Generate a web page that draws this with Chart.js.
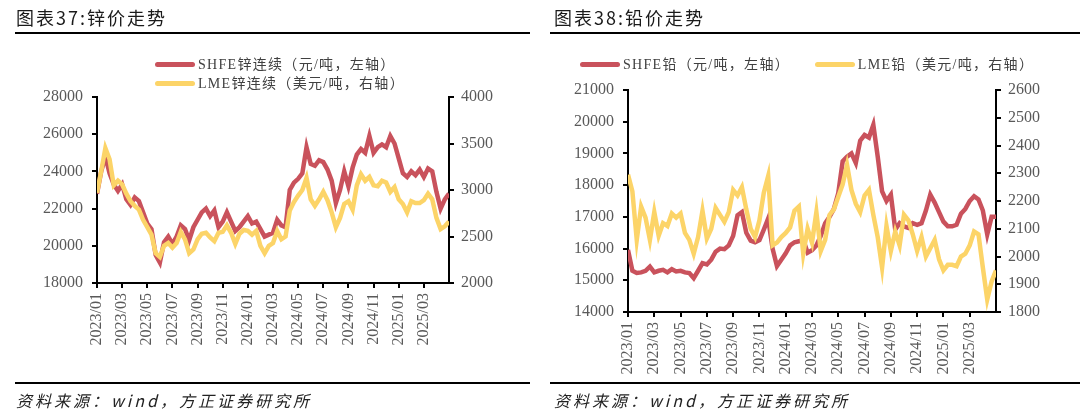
<!DOCTYPE html>
<html>
<head>
<meta charset="utf-8">
<script src="https://cdn.jsdelivr.net/npm/chart.js@4.4.1/dist/chart.umd.min.js"></script>
<style>
  body { margin: 0; width: 1080px; height: 412px; background: #fff; overflow: hidden; position: relative; }
  .panel { position: absolute; top: 0; width: 540px; height: 412px; }
  .panel canvas { position: absolute; left: 0; top: 0; }
  .title { position: absolute; top: 6px; font-family: "Noto Sans CJK SC", sans-serif; font-size: 18px; letter-spacing: 2px; color: #1a1a1a; line-height: 22px; white-space: nowrap; }
  .rule { position: absolute; height: 2px; background: #000; }
  .source { position: absolute; top: 390px; font-family: "Noto Sans CJK SC", sans-serif; font-style: italic; font-size: 16px; letter-spacing: 3px; color: #222; line-height: 20px; white-space: nowrap; }
  .legend { position: absolute; font-family: "Liberation Serif", "Noto Sans CJK SC", serif; font-size: 14px; letter-spacing: 1.3px; color: #404040; line-height: 17px; }
  .legend .item { display: inline-flex; align-items: center; white-space: nowrap; }
  .legend .swatch { display: inline-block; width: 40px; height: 5px; border-radius: 3px; margin-right: 3px; }
</style>
</head>
<body>

<div class="panel" style="left:0">
  <canvas id="zinc" width="540" height="412"></canvas>
  <div class="title" style="left:16px">图表37:锌价走势</div>
  <div class="rule" style="left:15px; top:32px; width:515px"></div>
  <div class="legend" style="left:155px; top:54px">
    <div class="item"><span class="swatch" style="background:#C9525C"></span>SHFE锌连续（元/吨，左轴）</div><br>
    <div class="item"><span class="swatch" style="background:#FCD468"></span>LME锌连续（美元/吨，右轴）</div>
  </div>
  <div class="rule" style="left:15px; top:382px; width:515px"></div>
  <div class="source" style="left:16px">资料来源：wind，方正证券研究所</div>
</div>

<div class="panel" style="left:540px">
  <canvas id="lead" width="540" height="412"></canvas>
  <div class="title" style="left:14px">图表38:铅价走势</div>
  <div class="rule" style="left:10px; top:32px; width:533px"></div>
  <div class="legend" style="left:40px; top:54px">
    <div class="item"><span class="swatch" style="background:#C9525C"></span>SHFE铅（元/吨，左轴）</div>
    <div class="item" style="margin-left:20px"><span class="swatch" style="background:#FCD468"></span>LME铅（美元/吨，右轴）</div>
  </div>
  <div class="rule" style="left:10px; top:382px; width:533px"></div>
  <div class="source" style="left:14px">资料来源：wind，方正证券研究所</div>
</div>

<script>
// x ticks every two months, 3 samples per month from 2023/01 to 2025/04
const tickLabels = ["2023/01", "2023/03", "2023/05", "2023/07", "2023/09", "2023/11",
  "2024/01", "2024/03", "2024/05", "2024/07", "2024/09", "2024/11", "2025/01", "2025/03"];
const samplesPerMonth = 3;

// 锌：SHFE (元/吨) and LME (美元/吨)
const zincShfe = [
  22800, 24000, 24800, 23900, 23300, 22950, 23300, 22500, 22200, 22600,
  22400, 21800, 21200, 20900, 19500, 19100, 20200, 20500, 20100, 20500,
  21100, 20900, 20300, 21000, 21400, 21800, 22000, 21600, 21900, 21000,
  21300, 21800, 21300, 20800, 21000, 21300, 21600, 21200, 21300, 20900,
  20500, 20600, 20700, 21400, 21100, 21000, 23000, 23400, 23600, 23900,
  25300, 24400, 24300, 24600, 24500, 24100, 23500, 22300, 23000, 24000,
  23200, 24200, 24900, 25200, 25000, 25900, 25000, 25300, 25450, 25300,
  25900, 25500, 24700, 23900, 23700, 24000, 23800, 24100, 23700, 24150,
  24000, 22900, 22000, 22500, 22800
];
const zincLme = [
  2970, 3200, 3450, 3330, 3050, 3100, 3060, 2960, 2880, 2830,
  2790, 2680, 2600, 2520, 2320, 2280, 2400, 2430, 2380, 2430,
  2550, 2470, 2320, 2360, 2470, 2530, 2540, 2490, 2450, 2540,
  2550, 2620, 2540, 2420, 2530, 2570, 2560, 2520, 2560, 2400,
  2320, 2400, 2430, 2560, 2470, 2500, 2780, 2870, 2940, 3000,
  3130, 2900, 2830, 2900, 2980, 2890, 2760, 2600, 2700, 2850,
  2880, 2790, 3050, 3170, 3100, 3140, 3050, 3040, 3100, 3080,
  2980, 3030, 2900, 2850, 2760, 2880, 2860, 2860, 2890, 2960,
  2900, 2700, 2580, 2610, 2660
];

// 铅：SHFE (元/吨) and LME (美元/吨)
const leadShfe = [
  15960, 15300, 15230, 15250, 15300, 15430, 15250, 15300, 15330, 15250,
  15350, 15280, 15300, 15250, 15230, 15070, 15300, 15540, 15500, 15650,
  15900, 16000, 15980, 16100, 16400, 17050, 17150, 16500, 16250, 16200,
  16270, 16600, 16950, 16000, 15450, 15650, 15850, 16100, 16200, 16230,
  16280, 15870, 15950, 16100, 16400, 16800, 17000, 17250, 17750, 18750,
  18900, 19000, 18700, 19400, 19580, 19500, 19900, 18900, 17800, 17500,
  17700, 16600, 16800, 16700, 16650, 16800, 16750, 16800, 17200, 17700,
  17450, 17150, 16850, 16700, 16700, 16750, 17100, 17250, 17500, 17650,
  17550, 17200, 16450, 17000, 17000
];
const leadLme = [
  2295, 2235, 2060, 2180, 2140, 2060, 2160, 2075, 2120, 2110,
  2155, 2140, 2155, 2085, 2060, 2010, 2070, 2165, 2065, 2100,
  2175, 2150, 2125, 2160, 2240, 2220, 2250, 2170, 2100, 2070,
  2130, 2230, 2290, 2040, 2050, 2070, 2085, 2105, 2165, 2180,
  2010, 2100, 2050, 2160, 2020, 2060, 2150, 2170, 2215, 2260,
  2330, 2240, 2190, 2160, 2220, 2240, 2150, 2070, 1960, 2110,
  2020, 2090, 2040, 2150, 2130, 2080, 2020, 2070, 2000, 2030,
  2060, 1990, 1950, 1970, 1970, 1965, 2000, 2010, 2040, 2090,
  2080, 1960, 1845, 1910, 1950
];

const RED = "#C9525C";
const YELLOW = "#FCD468";
const TICK_COLOR = "#595959";

Chart.defaults.font.family = '"Liberation Serif", "Noto Sans CJK SC", serif';
Chart.defaults.font.size = 16;

function toPoints(values) {
  return values.map((v, i) => ({ x: i / samplesPerMonth, y: v }));
}

function axisStyle() {
  return {
    grid: { drawOnChartArea: false, drawTicks: true, tickLength: 5, color: "#000", lineWidth: 2 },
    border: { display: true, color: "#000", width: 2 },
  };
}

// box = plot area edges in canvas pixels
function drawChart(id, box, shfe, lme, left, right) {
  const canvas = document.getElementById(id);
  const W = canvas.width;
  const H = canvas.height;

  const data = {
    datasets: [
      {
        label: "SHFE",
        data: toPoints(shfe),
        yAxisID: "yL",
        borderColor: RED,
        backgroundColor: RED,
        borderWidth: 4.5,
        pointRadius: 0,
        tension: 0,
        order: 1,
      },
      {
        label: "LME",
        data: toPoints(lme),
        yAxisID: "yR",
        borderColor: YELLOW,
        backgroundColor: YELLOW,
        borderWidth: 4.5,
        pointRadius: 0,
        tension: 0,
        order: 0,
      },
    ],
  };

  const options = {
    responsive: false,
    animation: false,
    layout: { padding: { top: box.top, left: 0, right: 0, bottom: 0 } },
    plugins: { legend: { display: false }, tooltip: { enabled: false } },
    scales: {
      x: {
        type: "linear",
        min: 0,
        max: 28,
        ...axisStyle(),
        ticks: {
          stepSize: 2,
          includeBounds: false,
          autoSkip: false,
          minRotation: 90,
          maxRotation: 90,
          padding: 5,
          color: TICK_COLOR,
          callback: (v) => (tickLabels[v / 2] === undefined ? null : tickLabels[v / 2]),
        },
        afterFit: (s) => { s.height = H - box.bottom; },
      },
      yL: {
        position: "left",
        min: left.min,
        max: left.max,
        ...axisStyle(),
        ticks: { stepSize: left.step, padding: 9, color: TICK_COLOR, callback: (v) => String(v) },
        afterFit: (s) => { s.width = box.left; },
      },
      yR: {
        position: "right",
        min: right.min,
        max: right.max,
        ...axisStyle(),
        ticks: { stepSize: right.step, padding: 7, color: TICK_COLOR, callback: (v) => String(v) },
        afterFit: (s) => { s.width = W - box.right; },
      },
    },
  };

  return new Chart(canvas, { type: "line", data, options });
}

drawChart("zinc", { left: 97, right: 449, top: 97, bottom: 283 }, zincShfe, zincLme,
  { min: 18000, max: 28000, step: 2000 }, { min: 2000, max: 4000, step: 500 });

drawChart("lead", { left: 88, right: 456, top: 90, bottom: 312 }, leadShfe, leadLme,
  { min: 14000, max: 21000, step: 1000 }, { min: 1800, max: 2600, step: 100 });
</script>
</body>
</html>
